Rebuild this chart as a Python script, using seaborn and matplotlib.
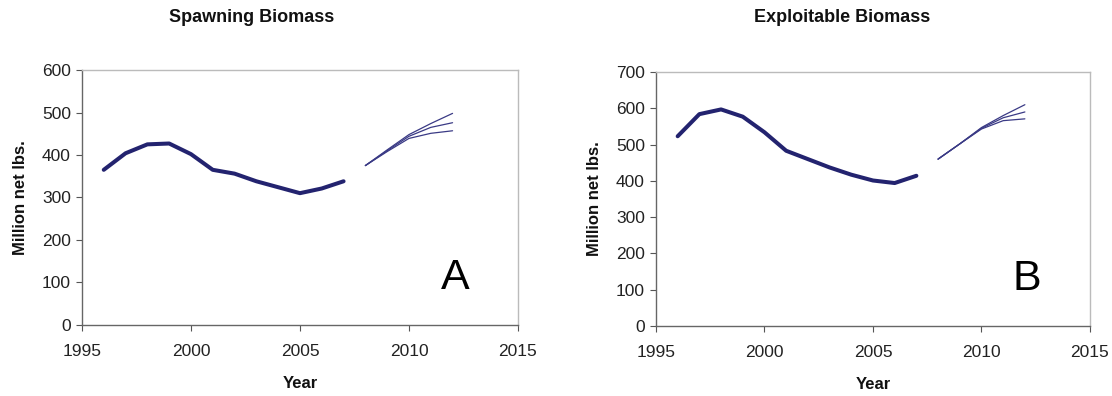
import matplotlib
matplotlib.use("Agg")
import matplotlib.pyplot as plt
import seaborn as sns
import pandas as pd
import numpy as np

# ---- data ----
hist_years = [1996, 1997, 1998, 1999, 2000, 2001, 2002, 2003, 2004, 2005, 2006, 2007]
spawn_hist = [365, 404, 425, 427, 402, 365, 356, 338, 324, 310, 321, 338]
exploit_hist = [523, 584, 597, 577, 534, 483, 460, 437, 417, 401, 394, 414]

proj_years = [2008, 2009, 2010, 2011, 2012]
spawn_proj_high = [375, 412, 448, 474, 498]
spawn_proj_mid = [375, 410, 444, 465, 476]
spawn_proj_low = [375, 408, 439, 451, 457]
exploit_proj_high = [460, 502, 547, 580, 610]
exploit_proj_mid = [460, 502, 545, 574, 590]
exploit_proj_low = [460, 502, 543, 566, 571]

titles = ["Spawning Biomass", "Exploitable Biomass"]
panel_letters = ["A", "B"]
y_limits = [600, 700]
x_ticks = [1995, 2000, 2005, 2010, 2015]

sns.set_theme(style="white")
plt.rcParams["font.family"] = ["Liberation Sans", "DejaVu Sans"]

fig = plt.figure(figsize=(11.12, 3.96), dpi=100)
axA = fig.add_axes([0.0737, 0.180, 0.3921, 0.643])
axB = fig.add_axes([0.5899, 0.177, 0.3903, 0.641])

navy = "#23236f"
panels = [
    (axA, spawn_hist, [spawn_proj_high, spawn_proj_mid, spawn_proj_low]),
    (axB, exploit_hist, [exploit_proj_high, exploit_proj_mid, exploit_proj_low]),
]
title_x = [252 / 1112, 842 / 1112]

for i, (ax, hist, projs) in enumerate(panels):
    dh = pd.DataFrame({"Year": hist_years, "Value": hist})
    sns.lineplot(data=dh, x="Year", y="Value", ax=ax, color=navy, linewidth=2.9)
    for p in projs:
        dp = pd.DataFrame({"Year": proj_years, "Value": p})
        sns.lineplot(data=dp, x="Year", y="Value", ax=ax, color="#3a3a85", linewidth=0.9)
    ax.set_xlim(1995, 2015)
    ax.set_ylim(0, y_limits[i])
    ax.set_xticks(x_ticks)
    ax.set_yticks(np.arange(0, y_limits[i] + 1, 100))
    ax.tick_params(axis="both", which="major", direction="out", length=4, width=0.8,
                   colors="#555555", labelcolor="#222222", labelsize=12.5, pad=4,
                   left=True, bottom=True)
    ax.tick_params(axis="x", pad=10)
    for s in ["left", "bottom"]:
        ax.spines[s].set_color("#666666")
        ax.spines[s].set_linewidth(1.0)
    for s in ["top", "right"]:
        ax.spines[s].set_color("#bbbbbb")
        ax.spines[s].set_linewidth(1.0)
    ax.set_xlabel("Year", fontsize=12, fontweight="bold", color="#111111", labelpad=12)
    ax.set_ylabel("Million net lbs.", fontsize=12, fontweight="bold", color="#111111", labelpad=10)
    fig.text(title_x[i], 1 - 18 / 396, titles[i], fontsize=13, fontweight="bold",
             color="#111111", ha="center", va="center")
    ax.text(0.855, 0.185, panel_letters[i], transform=ax.transAxes, fontsize=31,
            ha="center", va="center", color="black")

fig.savefig("out.png", dpi=100)
